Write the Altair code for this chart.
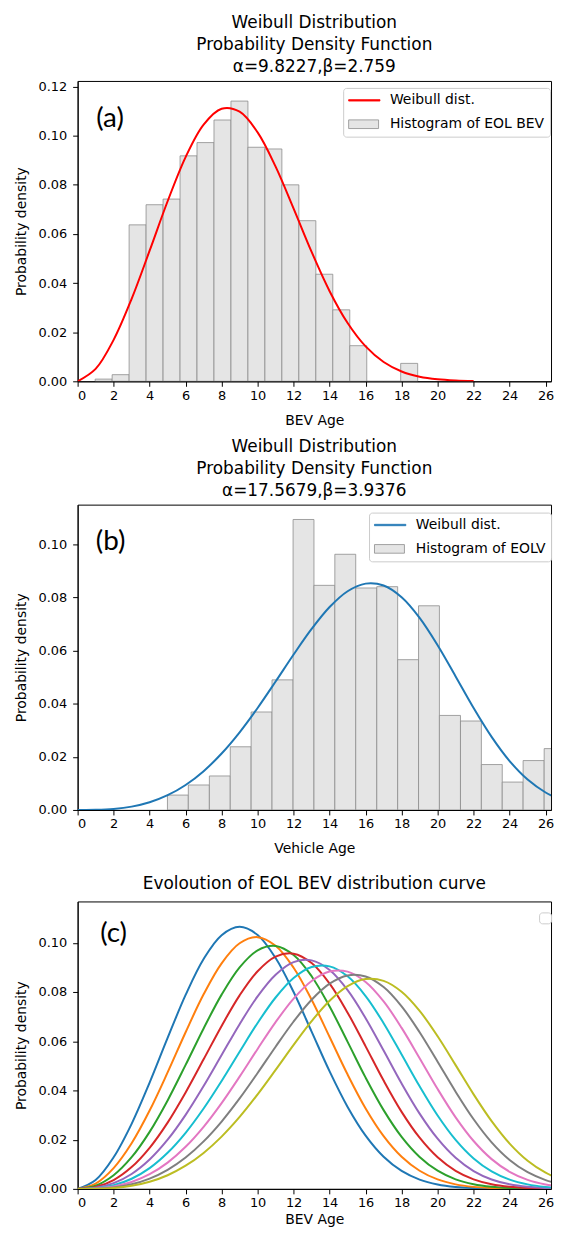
import altair as alt
import pandas as pd

# ---------------- data ----------------
TITLE_A = ["Weibull Distribution", "Probability Density Function", "α=9.8227,β=2.759"]
TITLE_B = ["Weibull Distribution", "Probability Density Function", "α=17.5679,β=3.9376"]
TITLE_C = "Evoloution of EOL BEV distribution curve"

X_TICKS = [0, 2, 4, 6, 8, 10, 12, 14, 16, 18, 20, 22, 24, 26]

# panel (a): Weibull curve of EOL BEV
A_X = [0, 1, 2, 3, 4, 5, 6, 7, 8, 9, 10, 11, 12, 13, 14, 15, 16, 17, 18, 19, 20, 21, 22]
A_PDF = [0.0, 0.00504, 0.01688, 0.03357, 0.05319, 0.07332, 0.09131, 0.10452, 0.11097,
         0.10979, 0.10137, 0.08740, 0.07031, 0.05269, 0.03670, 0.02373, 0.01421,
         0.00786, 0.00400, 0.00187, 0.00080, 0.00031, 0.00010]
# panel (a): histogram of EOL BEV
A_EDGES = [0.975, 1.918, 2.861, 3.804, 4.747, 5.690, 6.633, 7.576, 8.519, 9.462, 10.405,
           11.348, 12.291, 13.234, 14.177, 15.120, 16.063, 17.006, 17.949, 18.892]
A_DENS = [0.0009, 0.0027, 0.0637, 0.0719, 0.0742, 0.0918, 0.0972, 0.1064, 0.1141, 0.0953,
          0.0946, 0.0800, 0.0654, 0.0436, 0.0291, 0.0145, 0.0, 0.0, 0.0073]

# panel (b): Weibull curve of EOLV
B_X = [0, 1, 2, 3, 4, 5, 6, 7, 8, 9, 10, 11, 12, 13, 14, 15, 16, 17, 18, 19, 20, 21, 22,
       23, 24, 25, 26, 26.75]
B_PDF = [0.0, 0.00005, 0.00038, 0.00125, 0.00289, 0.00555, 0.00941, 0.01462, 0.02125,
         0.02924, 0.03841, 0.04836, 0.05853, 0.06817, 0.07643, 0.08238, 0.08525, 0.08453,
         0.08010, 0.07233, 0.06201, 0.05029, 0.03839, 0.02752, 0.01841, 0.01144, 0.00657,
         0.00411]
# panel (b): histogram of EOLV
B_EDGES = [4.99, 6.15, 7.32, 8.48, 9.64, 10.80, 11.97, 13.13, 14.29, 15.45, 16.62, 17.78,
           18.94, 20.10, 21.27, 22.43, 23.59, 24.75, 25.92, 27.08]
B_DENS = [0.0056, 0.0094, 0.0128, 0.0238, 0.0369, 0.0490, 0.1094, 0.0846, 0.0963, 0.0836,
          0.0841, 0.0566, 0.0769, 0.0356, 0.0335, 0.0171, 0.0105, 0.0186, 0.0231]

# panel (c): evolution of the EOL BEV distribution curve
C_X = B_X
C1 = [0.0, 0.00364, 0.01284, 0.02644, 0.04317, 0.06133, 0.07883, 0.09342, 0.10310, 0.10650,
      0.10317, 0.09379, 0.07998, 0.06390, 0.04774, 0.03330, 0.02164, 0.01305, 0.00729,
      0.00376, 0.00179, 0.00078, 0.00031, 0.00012, 0.00004, 0.00001, 0.0, 0.0]
C2 = [0.0, 0.00217, 0.00846, 0.01853, 0.03182, 0.04732, 0.06366, 0.07906, 0.09167, 0.09980,
      0.10230, 0.09879, 0.08984, 0.07687, 0.06172, 0.04645, 0.03268, 0.02144, 0.01305,
      0.00737, 0.00384, 0.00184, 0.00081, 0.00033, 0.00012, 0.00004, 0.00001, 0.0]
C3 = [0.0, 0.00129, 0.00553, 0.01286, 0.02317, 0.03595, 0.05037, 0.06520, 0.07894, 0.09002,
      0.09693, 0.09870, 0.09503, 0.08642, 0.07408, 0.05975, 0.04520, 0.03201, 0.02114,
      0.01298, 0.00738, 0.00387, 0.00187, 0.00083, 0.00033, 0.00012, 0.00004, 0.00002]
C4 = [0.0, 0.00076, 0.00359, 0.00886, 0.01669, 0.02694, 0.03918, 0.05264, 0.06622, 0.07864,
      0.08845, 0.09439, 0.09558, 0.09178, 0.08341, 0.07161, 0.05792, 0.04401, 0.03130,
      0.02080, 0.01284, 0.00733, 0.00387, 0.00187, 0.00083, 0.00034, 0.00012, 0.00006]
C5 = [0.0, 0.00044, 0.00231, 0.00606, 0.01192, 0.01997, 0.03007, 0.04177, 0.05438, 0.06694,
      0.07824, 0.08702, 0.09214, 0.09286, 0.08892, 0.08075, 0.06937, 0.05622, 0.04282,
      0.03058, 0.02038, 0.01262, 0.00724, 0.00383, 0.00186, 0.00082, 0.00033, 0.00016]
C6 = [0.0, 0.00026, 0.00149, 0.00412, 0.00845, 0.01467, 0.02279, 0.03266, 0.04386, 0.05575,
      0.06743, 0.07777, 0.08569, 0.09014, 0.09043, 0.08637, 0.07836, 0.06734, 0.05461,
      0.04170, 0.02984, 0.01993, 0.01238, 0.00711, 0.00376, 0.00183, 0.00081, 0.00041]
C7 = [0.0, 0.00015, 0.00095, 0.00278, 0.00595, 0.01068, 0.01711, 0.02523, 0.03486, 0.04561,
      0.05687, 0.06777, 0.07732, 0.08448, 0.08835, 0.08827, 0.08408, 0.07618, 0.06542,
      0.05310, 0.04057, 0.02907, 0.01945, 0.01209, 0.00694, 0.00368, 0.00178, 0.00098]
C8 = [0.0, 0.00009, 0.00060, 0.00186, 0.00416, 0.00773, 0.01274, 0.01929, 0.02736, 0.03675,
      0.04709, 0.05777, 0.06801, 0.07686, 0.08339, 0.08674, 0.08631, 0.08201, 0.07417,
      0.06366, 0.05165, 0.03949, 0.02830, 0.01893, 0.01177, 0.00677, 0.00358, 0.00210]
C9 = B_PDF
C_NAMES = ["c1", "c2", "c3", "c4", "c5", "c6", "c7", "c8", "c9"]
C_COLORS = ["#1f77b4", "#ff7f0e", "#2ca02c", "#d62728", "#9467bd", "#17becf",
            "#e377c2", "#7f7f7f", "#bcbd22"]

# panel letters (data coordinates)
TAGS = ["(a)", "(b)", "(c)"]
TAG_X = [1.8, 1.83, 2.0]
TAG_Y = [0.1066, 0.1008, 0.1035]

# ---------------- styling ----------------
X_MAX = 26.3
Y_MAX = [0.1223, 0.1150, 0.1168]
PLOT_W = 476
PLOT_H = [302, 307, 289]
RED = "#ff0000"
BLUE = "#1f77b4"
BAR_FILL = "#e5e5e5"
BAR_EDGE = "#8c8c8c"
LINE_LABEL = "Weibull dist."
LINE_SYMBOL = "M-1,-0.1H3.5V0.1H-1Z"
RECT_SYMBOL = "M-1,-0.62H3.3V0.62H-1Z"


def make_legend(lx, ly):
    return alt.Legend(
        title=None, orient="none", legendX=lx, legendY=ly, padding=5,
        fillColor="white", strokeColor="#cccccc", cornerRadius=3,
        labelFont="DejaVu Sans", labelFontSize=14, labelColor="black",
        labelLimit=400, symbolSize=196, labelOffset=27, rowPadding=9,
        symbolStrokeWidth=0.8, symbolOpacity=1,
    )


def x_enc(field, title, tp=11):
    return alt.X(f"{field}:Q", scale=alt.Scale(domain=[0, X_MAX], nice=False, zero=False),
                 axis=alt.Axis(values=X_TICKS, title=title, labelPadding=3, titlePadding=tp))


def y_enc(field, ymax):
    return alt.Y(f"{field}:Q", scale=alt.Scale(domain=[0, ymax], nice=False),
                 axis=alt.Axis(values=[0, 0.02, 0.04, 0.06, 0.08, 0.10, 0.12], format=".2f",
                               title="Probability density", labelPadding=6, titlePadding=9))


def empty_key():
    return pd.DataFrame({"series": pd.Series([], dtype=object),
                         "x": pd.Series([], dtype=float), "y": pd.Series([], dtype=float)})


def hist_panel(idx, title, xs, pdf, edges, dens, hist_label, line_color, xtitle, lx, ly):
    ymax = Y_MAX[idx]
    domain = [LINE_LABEL, hist_label]
    hist_df = pd.DataFrame({"x0": edges[:-1], "x1": edges[1:], "d": dens})
    line_df = pd.DataFrame({"x": xs, "p": pdf})
    tag_df = pd.DataFrame({"x": [TAG_X[idx]], "y": [TAG_Y[idx]], "t": [TAGS[idx]]})

    bars = alt.Chart(hist_df).mark_rect(
        fill=BAR_FILL, stroke=BAR_EDGE, strokeWidth=0.8, clip=True).encode(
        x=x_enc("x0", xtitle), x2="x1:Q", y=y_enc("d", ymax), y2=alt.datum(0))
    line = alt.Chart(line_df).mark_line(
        color=line_color, strokeWidth=2, interpolate="catmull-rom", clip=True).encode(
        x=x_enc("x", xtitle), y=y_enc("p", ymax))
    tag = alt.Chart(tag_df).mark_text(font="Lato", fontSize=28, color="black").encode(
        x=x_enc("x", xtitle), y=y_enc("y", ymax), text="t:N")
    legend = make_legend(lx, ly)
    key = alt.Chart(empty_key()).mark_point(filled=True, opacity=1).encode(
        x=x_enc("x", xtitle), y=y_enc("y", ymax),
        fill=alt.Fill("series:N", scale=alt.Scale(domain=domain, range=[line_color, BAR_FILL]),
                      legend=legend),
        stroke=alt.Stroke("series:N", scale=alt.Scale(domain=domain, range=[line_color, BAR_EDGE]),
                          legend=legend),
        shape=alt.Shape("series:N", scale=alt.Scale(domain=domain, range=[LINE_SYMBOL, RECT_SYMBOL]),
                        legend=legend),
    )
    return alt.layer(bars, line, tag, key).properties(
        width=PLOT_W, height=PLOT_H[idx], title=alt.Title(title, offset=5))


chart_a = hist_panel(0, TITLE_A, A_X, A_PDF, A_EDGES, A_DENS, "Histogram of EOL BEV", RED,
                     "BEV Age", 267, 7)
chart_b = hist_panel(1, TITLE_B, B_X, B_PDF, B_EDGES, B_DENS, "Histogram of EOLV", BLUE,
                     "Vehicle Age", 293, 8)

curves = [C1, C2, C3, C4, C5, C6, C7, C8, C9]
rows = []
for name, vals in zip(C_NAMES, curves):
    for xv, yv in zip(C_X, vals):
        rows.append({"x": xv, "p": yv, "curve": name})
c_df = pd.DataFrame(rows)
c_lines = alt.Chart(c_df).mark_line(strokeWidth=2, interpolate="catmull-rom", clip=True).encode(
    x=x_enc("x", "BEV Age", 3), y=y_enc("p", Y_MAX[2]),
    color=alt.Color("curve:N", scale=alt.Scale(domain=C_NAMES, range=C_COLORS), legend=None))
c_tag = alt.Chart(pd.DataFrame({"x": [TAG_X[2]], "y": [TAG_Y[2]], "t": [TAGS[2]]})).mark_text(
    font="Lato", fontSize=28, color="black").encode(
    x=x_enc("x", "BEV Age", 3), y=y_enc("y", Y_MAX[2]), text="t:N")
# empty legend box, as in the reference
c_key = alt.Chart(empty_key()).mark_point(filled=True, opacity=1).encode(
    x=x_enc("x", "BEV Age", 3), y=y_enc("y", Y_MAX[2]),
    fill=alt.Fill("series:N", scale=alt.Scale(domain=[" "], range=["white"]),
                  legend=alt.Legend(title=None, orient="none", legendX=464, legendY=11, padding=4,
                                    fillColor="white", strokeColor="#cccccc", cornerRadius=3,
                                    symbolSize=4, symbolOpacity=0, labelFontSize=2,
                                    labelOffset=0)))
chart_c = alt.layer(c_lines, c_tag, c_key).properties(
    width=PLOT_W, height=PLOT_H[2], title=alt.Title(TITLE_C, offset=9))

RES = dict(fill="independent", stroke="independent", shape="independent")
inner = alt.vconcat(chart_a, chart_b, spacing=9).resolve_scale(**RES).resolve_legend(**RES)
chart = alt.vconcat(inner, chart_c, spacing=17).resolve_scale(**RES).resolve_legend(**RES).properties(
    padding={"left": 6, "top": 2, "right": 0, "bottom": 0}
).configure_view(stroke="black", strokeWidth=1).configure_axis(
    grid=False, labelFont="DejaVu Sans", labelFontSize=13, labelColor="black",
    titleFont="DejaVu Sans", titleFontSize=14, titleFontWeight="normal", titleColor="black",
    tickColor="black", tickSize=5, domainColor="black", domainWidth=1,
).configure_title(
    font="DejaVu Sans", fontSize=17, fontWeight="normal", color="black",
    lineHeight=22, anchor="middle",
)

chart.save("out.html", embed_options={"renderer": "svg", "actions": False})
